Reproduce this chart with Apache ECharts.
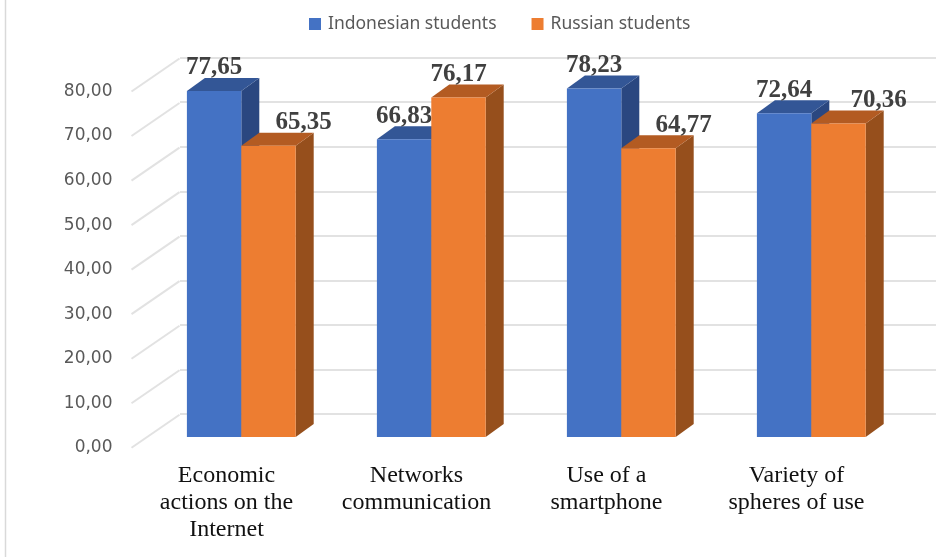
<!DOCTYPE html>
<html><head><meta charset="utf-8">
<style>html,body{margin:0;padding:0;background:#fff}#c{width:936px;height:557px;filter:blur(0.4px)}</style>
<script src="https://cdn.jsdelivr.net/npm/echarts@6/dist/echarts.min.js"></script>
</head><body><div id="c"></div>
<script>
const categories = ['Economic\nactions on the\nInternet', 'Networks\ncommunication', 'Use of a\nsmartphone', 'Variety of\nspheres of use'];
const indonesian = [77.65, 66.83, 78.23, 72.64];
const russian = [65.35, 76.17, 64.77, 70.36];
const seriesNames = ['Indonesian students', 'Russian students'];
const axisTicks = [0, 10, 20, 30, 40, 50, 60, 70, 80];

// styling / layout constants
const labelShift = [[0, 0, 0, 0], [35, 0, 35, 40]];
const palette = [
  { front: '#4472C4', top: '#335696', side: '#2A4780' },
  { front: '#ED7D31', top: '#B35B22', side: '#964F1C' }
];
const BAR_DX = 18, BAR_DY = 13, WALL_DX = 48, WALL_DY = 33, BAR_RATIO = 54.4 / 190;
const fmt = v => v.toFixed(2).replace('.', ',');

function barSeries(idx, values) {
  const c = palette[idx];
  return {
    name: seriesNames[idx], type: 'custom', xAxisIndex: 2, yAxisIndex: 2, z: 5 + idx,
    data: values.map((v, i) => [i, v]),
    encode: { x: 0, y: 1 },
    renderItem(params, api) {
      const i = api.value(0), v = api.value(1);
      const top = api.coord([i, v]), base = api.coord([i, 0]);
      const w = api.size([1, 0])[0] * BAR_RATIO;
      const x0 = top[0] - w + idx * w, x1 = x0 + w, yt = top[1], yb = base[1];
      return { type: 'group', children: [
        { type: 'polygon', shape: { points: [[x1, yb], [x1 + BAR_DX, yb - BAR_DY], [x1 + BAR_DX, yt - BAR_DY], [x1, yt]] }, style: { fill: c.side } },
        { type: 'polygon', shape: { points: [[x0, yt], [x0 + BAR_DX, yt - BAR_DY], [x1 + BAR_DX, yt - BAR_DY], [x1, yt]] }, style: { fill: c.top } },
        { type: 'rect', shape: { x: x0, y: yt, width: w, height: yb - yt }, style: { fill: c.front } },
        { type: 'text', z2: 100, style: { text: fmt(v), x: (x0 + x1) / 2 + labelShift[idx][i], y: yt - 23, align: 'center', verticalAlign: 'middle',
            font: 'bold 25px "Liberation Serif"', fill: '#404040' } }
      ] };
    }
  };
}

const chart = echarts.init(document.getElementById('c'), null, { renderer: 'canvas' });
chart.setOption({
  animation: false,
  backgroundColor: '#fff',
  legend: {
    top: 10, left: 304, itemWidth: 12, itemHeight: 12, itemGap: 35, icon: 'rect',
    data: seriesNames.map((name, i) => ({ name, itemStyle: { color: palette[i].front } })),
    textStyle: { fontFamily: 'Noto Sans', fontSize: 17.5, color: '#595959', padding: [0, 0, 0, 2] }
  },
  graphic: [{ type: 'line', shape: { x1: 5.5, y1: 0, x2: 5.5, y2: 557 }, style: { stroke: '#d9d9d9', lineWidth: 1.5 } }],
  grid: [
    { left: 180, right: 0, top: 57.7, bottom: 557 - 414 },      // back wall
    { left: 131.5, right: 936 - 891.5, top: 91.5, bottom: 557 - 447.8 }, // front edge
    { left: 146.3, right: 936 - 906.3, top: 80.5, bottom: 557 - 437 }    // bar plane
  ],
  xAxis: [
    { gridIndex: 0, type: 'category', data: categories, show: false },
    { gridIndex: 1, type: 'category', data: categories, axisLine: { show: false }, axisTick: { show: false },
      axisLabel: { interval: 0, margin: 14, fontFamily: 'Liberation Serif', fontSize: 24, lineHeight: 27, color: '#111' } },
    { gridIndex: 2, type: 'category', data: categories, show: false }
  ],
  yAxis: [
    { gridIndex: 0, type: 'value', min: 0, max: 80, interval: 10, axisLine: { show: false }, axisTick: { show: false }, axisLabel: { show: false },
      splitLine: { show: true, lineStyle: { color: '#e2e2e2', width: 2 } } },
    { gridIndex: 1, type: 'value', min: 0, max: 80, interval: 10, axisLine: { show: false }, axisTick: { show: false }, splitLine: { show: false },
      axisLabel: { margin: 19, fontFamily: 'DejaVu Sans', fontSize: 17, color: '#595959', formatter: fmt } },
    { gridIndex: 2, type: 'value', min: 0, max: 80, interval: 10, show: false, splitLine: { show: false } }
  ],
  series: [
    { type: 'custom', xAxisIndex: 1, yAxisIndex: 1, z: 2, silent: true,
      data: axisTicks.map(t => [0, t]), encode: { x: 0, y: 1 },
      renderItem(params, api) {
        const y = api.coord([0, api.value(1)])[1], x = params.coordSys.x;
        return { type: 'line', shape: { x1: x, y1: y, x2: x + WALL_DX, y2: y - WALL_DY }, style: { stroke: '#e2e2e2', lineWidth: 2 } };
      } },
    barSeries(0, indonesian),
    barSeries(1, russian)
  ]
});
</script></body></html>
